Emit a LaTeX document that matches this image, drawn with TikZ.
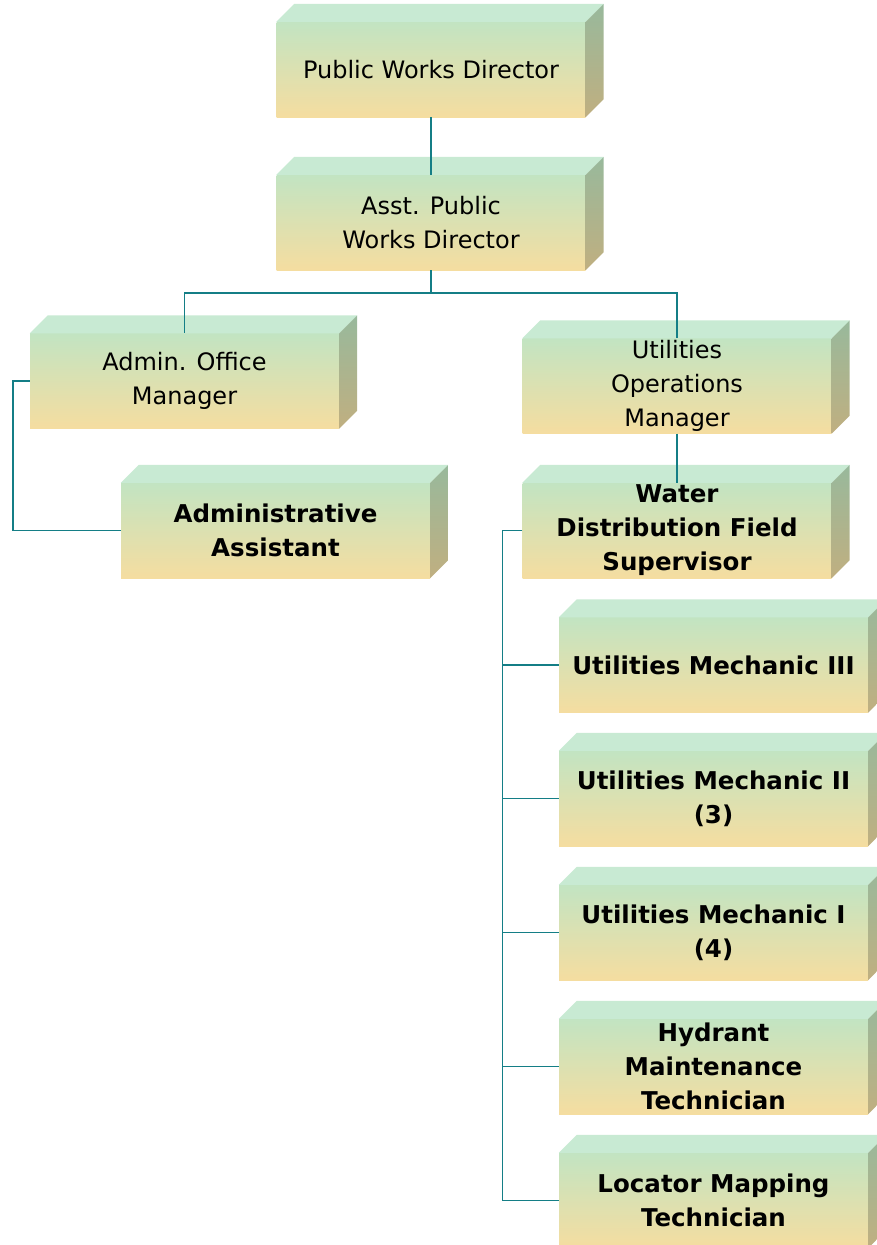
\documentclass[tikz,border=0pt]{standalone}
\usepackage{fontspec}
\setmainfont{DejaVu Sans}
\definecolor{frontTop}{RGB}{194,228,194}
\definecolor{frontBot}{RGB}{245,221,160}
\definecolor{topFace}{RGB}{200,234,211}
\definecolor{sideTop}{RGB}{152,185,156}
\definecolor{sideBot}{RGB}{192,175,128}
\definecolor{link}{RGB}{20,126,134}
\tikzset{
  card/.style={shade, top color=frontTop, bottom color=frontBot, draw=none,
    minimum width=309pt, minimum height=95pt, inner sep=0pt, align=center,
    text=black, font=\fontsize{24}{34}\selectfont},
  cardb/.style={card, font=\fontsize{24.5}{34}\selectfont\bfseries},
  topf/.style={fill=topFace},
  sidef/.style={top color=sideTop, bottom color=sideBot},
  conn/.style={draw=link, line width=1.6pt}
}
\newcommand\cardfaces[1]{%
  \fill[topf] (#1.north west) -- ++(18,-18) -- ([shift={(18,-18)}]#1.north east) -- (#1.north east) -- cycle;
  \shade[sidef] (#1.north east) -- ++(18,-18) -- ([shift={(18,-18)}]#1.south east) -- (#1.south east) -- cycle;
}
\begin{document}
\begin{tikzpicture}[x=1pt,y=-1pt]
\useasboundingbox (0,0) rectangle (877,1245);
\node[card] (pwd) at (431,69.5) {Public Works Director};
\node[card] (apwd) at (431,222.5) {Asst. Public\\Works Director};
\node[card] (admin) at (184.5,381) {Admin. Office\\Manager};
\node[cardb] (aa) at (275.5,530.5) {Administrative\\Assistant};
\node[card] (util) at (677,386) {Utilities\\Operations\\Manager};
\node[cardb] (water) at (677,530.5) {Water\\Distribution Field\\Supervisor};
\node[cardb] (m3) at (713.5,665) {Utilities Mechanic III};
\node[cardb] (m2) at (713.5,798.5) {Utilities Mechanic II\\(3)};
\node[cardb] (m1) at (713.5,932.5) {Utilities Mechanic I\\(4)};
\node[cardb] (hyd) at (713.5,1066.5) {Hydrant\\Maintenance\\Technician};
\node[cardb] (loc) at (713.5,1200.5) {Locator Mapping\\Technician};
\foreach \n in {pwd,apwd,admin,aa,util,water,m3,m2,m1,hyd,loc}{\cardfaces{\n}}
\draw[conn] (pwd.south) -- (apwd.north);
\draw[conn] (apwd.south) -- ++(0,23) coordinate (bus) -| (admin.north);
\draw[conn] (bus) -| (util.north);
\draw[conn] (util.south) -- (water.north);
\draw[conn] (admin.west) -- ++(-17,0) coordinate (aleft) |- (aa.west);
\draw[conn] (water.west) -- ++(-20,0) coordinate (wleft) |- (loc.west);
\foreach \n in {m3,m2,m1,hyd}{\draw[conn] (wleft |- \n.west) -- (\n.west);}
\end{tikzpicture}
\end{document}
